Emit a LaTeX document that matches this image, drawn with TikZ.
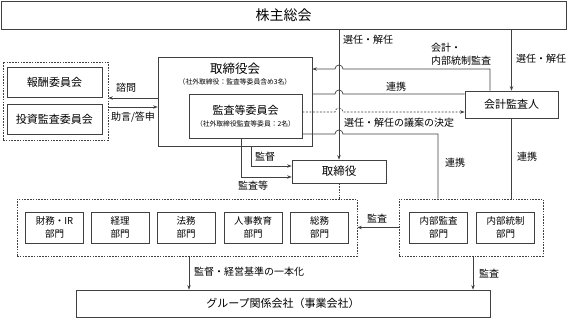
\documentclass[tikz,border=0pt]{standalone}
\usepackage{fontspec}
\setmainfont{Noto Sans CJK JP}
\usetikzlibrary{arrows.meta,positioning,calc}

\begin{document}
\begin{tikzpicture}[x=1pt,y=-1pt]
  \tikzset{
    box/.style={draw=black!75, fill=white, line width=0.7pt, inner sep=0pt, align=center},
    grp/.style={draw=black!75, line width=0.7pt, dash pattern=on 1.6pt off 1.2pt, inner sep=0pt},
    dept/.style={box, minimum width=58pt, minimum height=31pt, font=\fontsize{9.5}{13}\selectfont},
    lbl/.style={font=\fontsize{10}{12}\selectfont, inner sep=1pt},
    con/.style={black!75, line width=0.7pt},
    arr/.style={con, -{Stealth[length=4.5pt,width=3.5pt]}},
    darr/.style={arr, dash pattern=on 2pt off 1.5pt},
    dline/.style={con, dash pattern=on 1.6pt off 1.2pt}
  }
  \useasboundingbox (0,0) rectangle (567,318);

  % x positions of the long vertical lines
  \def\xL{339}
  \def\xK{490}
  \def\xC{438}
  \def\hr{4}

  % Shareholders meeting
  \node[box, minimum width=565pt, minimum height=28pt, font=\fontsize{14}{16}\selectfont] (agm) at (283.5,15) {株主総会};

  % Board of directors with audit committee inside
  \node[box, minimum width=154pt, minimum height=89pt] (board) at (235,101.5) {};
  \node[font=\fontsize{12.5}{14}\selectfont] (boardt) at (235,69) {取締役会};
  \node[font=\fontsize{6.8}{8}\selectfont] (boards) at (235,81.5) {（社外取締役：監査等委員含め3名）};
  \node[box, minimum width=113pt, minimum height=44pt] (acom) at (245.5,116) {};
  \node[font=\fontsize{11}{13}\selectfont] (acomt) at (245.5,110) {監査等委員会};
  \node[font=\fontsize{6.8}{8}\selectfont] (acoms) at (245.5,124) {（社外取締役監査等委員：2名）};

  % Advisory committees
  \node[grp, minimum width=105pt, minimum height=78pt] (advisory) at (55.5,101) {};
  \node[box, minimum width=95pt, minimum height=30pt, font=\fontsize{11}{13}\selectfont] (remun) at (54.5,82) {報酬委員会};
  \node[box, minimum width=95pt, minimum height=30pt, font=\fontsize{11}{13}\selectfont] (invest) at (54.5,119) {投資監査委員会};

  % Directors and accounting auditor
  \node[box, minimum width=94pt, minimum height=23pt, font=\fontsize{11.5}{13}\selectfont] (director) at (\xL,171.5) {取締役};
  \node[box, minimum width=93pt, minimum height=27pt, font=\fontsize{11}{13}\selectfont] (auditor) at (511.5,104.5) {会計監査人};

  % Head office departments
  \node[grp, minimum width=340pt, minimum height=57pt] (depts) at (187,227.5) {};
  \node[dept] (fin) at (54.5,227.5) {財務・IR\\部門};
  \node[dept] (acct) at (120,227.5) {経理\\部門};
  \node[dept] (legal) at (186,227.5) {法務\\部門};
  \node[dept] (hr) at (253,227.5) {人事教育\\部門};
  \node[dept] (ga) at (319.5,227.5) {総務\\部門};

  % Internal audit / control
  \node[grp, minimum width=144pt, minimum height=57pt] (internal) at (471,227.5) {};
  \node[dept] (ia) at (438.5,227.5) {内部監査\\部門};
  \node[dept] (ic) at (505.5,227.5) {内部統制\\部門};

  % Group companies
  \node[box, minimum width=414pt, minimum height=27pt, font=\fontsize{11}{13}\selectfont] (group) at (283,303.5) {グループ関係会社（事業会社）};

  % ================= CONNECTORS =================
  \draw[arr] (agm.south -| director.north) -- (director.north);
  \draw[arr] (agm.south -| auditor.north) -- (auditor.north);

  % lines hopping over the vertical line
  \draw[arr] (\xK,0 |- auditor.north) -- (\xK,69) -- (\xL+\hr,69) arc[start angle=0, end angle=180, radius=\hr pt] -- (board.east |- 0,69);
  \draw[con] (auditor.west |- 0,94) -- (\xL+\hr,94) arc[start angle=0, end angle=180, radius=\hr pt] -- (board.east |- 0,94);
  \draw[darr] (acom.east |- 0,112) -- (\xL-\hr,112) arc[start angle=180, end angle=0, radius=\hr pt] -- (auditor.west |- 0,112);
  \draw[con] (acom.east |- 0,134) -- (\xL-\hr,134) arc[start angle=180, end angle=0, radius=\hr pt] -- (\xC,134) -- (\xC,0 |- internal.north);
  \draw[con] (auditor.south) -- (auditor.south |- internal.north);

  % board / committee to directors
  \draw[arr] (251,0 |- board.south) -- (251,166) -- (director.west |- 0,166);
  \draw[arr] (241,0 |- acom.south) -- (241,177) -- (director.west |- 0,177);
  \draw[dline] (director.south) -- (director.south |- depts.north);

  % advisory committees
  \draw[arr] (board.west |- 0,98) -- (advisory.east |- 0,98);
  \draw[arr] (advisory.east |- 0,107) -- (board.west |- 0,107);

  % departments
  \draw[arr] (internal.west) -- (depts.east);
  \draw[arr] (189,0 |- depts.south) -- (189,0 |- group.north);
  \draw[arr] (473,0 |- internal.south) -- (473,0 |- group.north);

  % Labels
  \node[lbl] (l1) at (368,40) {選任・解任};
  \node[lbl, anchor=west] (l2) at (430,48) {会計・};
  \node[lbl, anchor=west] (l3) at (430,61) {内部統制監査};
  \node[lbl] (l4) at (541,59) {選任・解任};
  \node[lbl] (l5) at (396,87) {連携};
  \node[lbl] (l6) at (399,123) {選任・解任の議案の決定};
  \node[lbl] (l7) at (455,163) {連携};
  \node[lbl] (l8) at (527,157) {連携};
  \node[lbl] (l9) at (126,88) {諮問};
  \node[lbl] (l10) at (133,117) {助言/答申};
  \node[lbl] (l11) at (265,157) {監督};
  \node[lbl] (l12) at (253,186) {監査等};
  \node[lbl] (l13) at (377,219) {監査};
  \node[lbl, anchor=west] (l14) at (193,272) {監督・経営基準の一本化};
  \node[lbl] (l15) at (489,274) {監査};

\end{tikzpicture}
\end{document}
